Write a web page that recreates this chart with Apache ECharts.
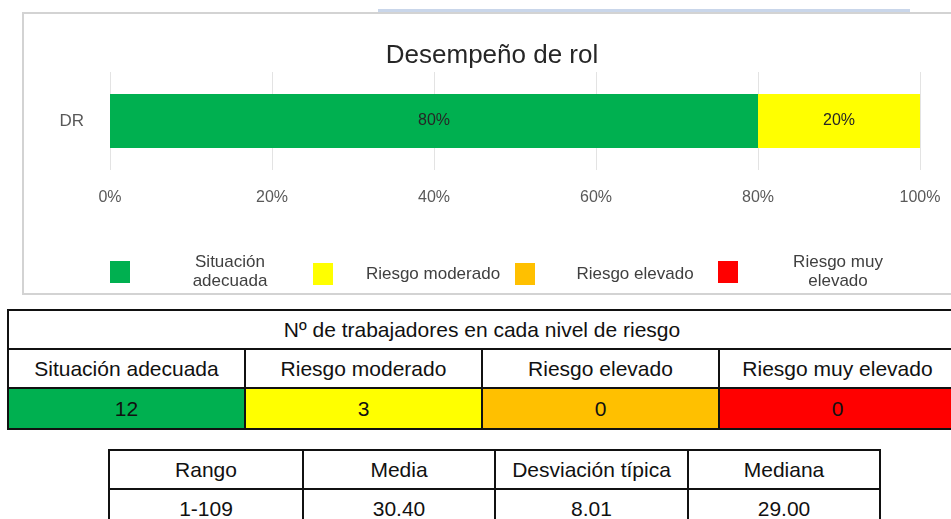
<!DOCTYPE html>
<html>
<head>
<meta charset="utf-8">
<script src="https://cdn.jsdelivr.net/npm/echarts@6/dist/echarts.min.js"></script>
<style>
  html, body { margin: 0; padding: 0; background: #fff; width: 951px; height: 519px; overflow: hidden; position: relative; font-family: Arial, "Liberation Sans", sans-serif; }
  #topline { position: absolute; left: 378px; top: 9px; width: 532px; height: 3px; background: #c9d6ea; }
  #box { position: absolute; left: 22px; top: 12px; width: 936px; height: 279px; border: 2px solid #d3d3d3; }
  #chart { position: absolute; left: 0; top: 0; width: 936px; height: 279px; }
  table { position: absolute; border-collapse: collapse; table-layout: fixed; font-family: Arial, "Liberation Sans", sans-serif; font-size: 21px; color: #111; }
  td { border: 2px solid #111; text-align: center; padding: 0; height: 37px; white-space: nowrap; }
  #levels { left: 7px; top: 309px; width: 950px; }
  #levels tr:last-child td { height: 39px; }
  #stats { left: 108px; top: 449px; width: 771px; }
</style>
</head>
<body>
<div id="topline"></div>
<div id="box"><div id="chart"></div></div>
<table id="levels"></table>
<table id="stats"></table>
<script>
// Role performance: share of workers per risk level
const chartTitle = 'Desempeño de rol';
const categories = ['DR'];
const levels = ['Situación adecuada', 'Riesgo moderado', 'Riesgo elevado', 'Riesgo muy elevado'];
const legendLabels = ['Situación\nadecuada', 'Riesgo moderado', 'Riesgo elevado', 'Riesgo muy\nelevado'];
const percentages = [80, 20, 0, 0];
const percentTicks = [0, 20, 40, 60, 80, 100];

// Worker counts per level and summary statistics
const countsTitle = 'Nº de trabajadores en cada nivel de riesgo';
const workerCounts = [12, 3, 0, 0];
const statsHeaders = ['Rango', 'Media', 'Desviación típica', 'Mediana'];
const statsValues = ['1-109', '30.40', '8.01', '29.00'];

const levelColors = ['#00b050', '#ffff00', '#ffc000', '#ff0000'];
const font = 'Arial, "Liberation Sans", sans-serif';

const chart = echarts.init(document.getElementById('chart'), null, { renderer: 'canvas' });

const legendLeft = [86, 289, 491, 694];
const legends = levels.map((name, i) => {
  const lines = legendLabels[i].split('\n');
  return {
    data: [name],
    selectedMode: false,
    left: legendLeft[i],
    top: lines.length > 1 ? 240 : 249,
    padding: 0,
    icon: 'rect',
    itemWidth: 20,
    itemHeight: 22,
    formatter: () => lines.map(l => '{t|' + l + '}').join('\n'),
    textStyle: {
      fontFamily: font,
      fontSize: 17,
      color: '#404040',
      rich: { t: { width: 190, align: 'center', fontSize: 17, lineHeight: 19, color: '#404040', fontFamily: font } }
    }
  };
});

chart.setOption({
  animation: false,
  title: {
    text: chartTitle,
    left: 'center',
    top: 29,
    padding: 0,
    textStyle: { fontFamily: font, fontSize: 26, fontWeight: 'normal', color: '#262626' }
  },
  legend: legends,
  grid: { left: 86, right: 40, top: 58, height: 98, containLabel: false },
  xAxis: {
    type: 'value',
    min: percentTicks[0],
    max: percentTicks[percentTicks.length - 1],
    interval: percentTicks[1] - percentTicks[0],
    axisLine: { show: false },
    axisTick: { show: false },
    axisLabel: { formatter: '{value}%', margin: 20, fontFamily: font, fontSize: 16, color: '#595959' },
    splitLine: { show: true, lineStyle: { color: '#e3e3e3', width: 1 } }
  },
  yAxis: {
    type: 'category',
    data: categories,
    axisLine: { show: false },
    axisTick: { show: false },
    axisLabel: { margin: 26, fontFamily: font, fontSize: 17, color: '#595959' }
  },
  series: levels.map((name, i) => ({
    name: name,
    type: 'bar',
    stack: 'total',
    barWidth: 54,
    itemStyle: { color: levelColors[i] },
    label: {
      show: true,
      position: 'inside',
      fontFamily: font,
      fontSize: 16,
      color: '#262626',
      formatter: p => (p.value ? p.value + '%' : '')
    },
    data: [percentages[i]]
  }))
});

// Counts table
const levelsTable = document.getElementById('levels');
let html = '<colgroup>' + levels.map(() => '<col style="width:25%">').join('') + '</colgroup>';
html += '<tr><td colspan="' + levels.length + '">' + countsTitle + '</td></tr>';
html += '<tr>' + levels.map(l => '<td>' + l + '</td>').join('') + '</tr>';
html += '<tr>' + workerCounts.map((c, i) => '<td style="background:' + levelColors[i] + '">' + c + '</td>').join('') + '</tr>';
levelsTable.innerHTML = html;

// Statistics table
const statsTable = document.getElementById('stats');
let shtml = '<colgroup><col style="width:194px"><col style="width:192px"><col style="width:193px"><col style="width:192px"></colgroup>';
shtml += '<tr>' + statsHeaders.map(h => '<td>' + h + '</td>').join('') + '</tr>';
shtml += '<tr>' + statsValues.map(v => '<td>' + v + '</td>').join('') + '</tr>';
statsTable.innerHTML = shtml;
</script>
</body>
</html>
